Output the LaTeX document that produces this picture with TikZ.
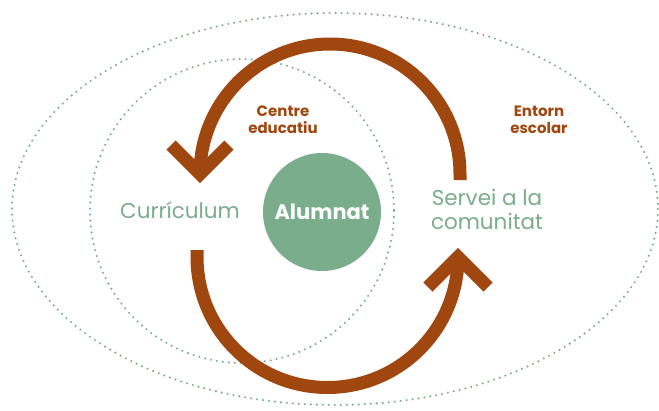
\documentclass[tikz,border=0pt]{standalone}
\usepackage{fontspec}
\setmainfont{Poppins}
\definecolor{verd}{HTML}{7AAD8B}
\definecolor{teula}{HTML}{A0470F}
\tikzset{
    dotring/.style={draw=verd, line width=2.3pt, line cap=round, dash pattern=on 0pt off 6pt},
    cycleline/.style={draw=teula, line width=13pt},
    greentext/.style={text=verd, font=\fontsize{21.5}{24}\selectfont, align=center},
    browntext/.style={text=teula, font=\bfseries\fontsize{15}{17}\selectfont, align=center}
}

\begin{document}
\begin{tikzpicture}[x=1pt,y=-1pt]
    \useasboundingbox (0,0) rectangle (659,410);

    \draw[dotring] (335,209) ellipse [x radius=323, y radius=196];
    \draw[dotring] (242,211) circle [radius=152];

    \coordinate (servei-top) at (460,180);
    \coordinate (curri-tip) at (200,174);
    \coordinate (curri-bottom) at (197,250);
    \coordinate (servei-tip) at (458,257);

    \draw[cycleline] (servei-top) -- ++(0,-6) arc [start angle=0, end angle=-180, radius=130] -- (curri-tip);
    \draw[cycleline] (curri-tip) ++(-29,-29) -- (curri-tip) -- ++(29,-29);
    \draw[cycleline] (curri-bottom) -- ++(0,7) arc [start angle=180, end angle=0, radius=130.5] -- (servei-tip);
    \draw[cycleline] (servei-tip) ++(-30,30) -- (servei-tip) -- ++(30,30);

    \node[circle, fill=verd, minimum size=118pt, inner sep=0pt, text=white,
        font=\bfseries\fontsize{21}{24}\selectfont] (alumnat) at (322,212) {Alumnat};
    \node[greentext, anchor=base] (curriculum) at (180,218) {Currículum};
    \node[greentext] (servei) at (487,209) {Servei a la\\comunitat};
    \node[browntext] (centre) at (283,120) {Centre\\educatiu};
    \node[browntext] (entorn) at (539,120) {Entorn\\escolar};
\end{tikzpicture}
\end{document}
